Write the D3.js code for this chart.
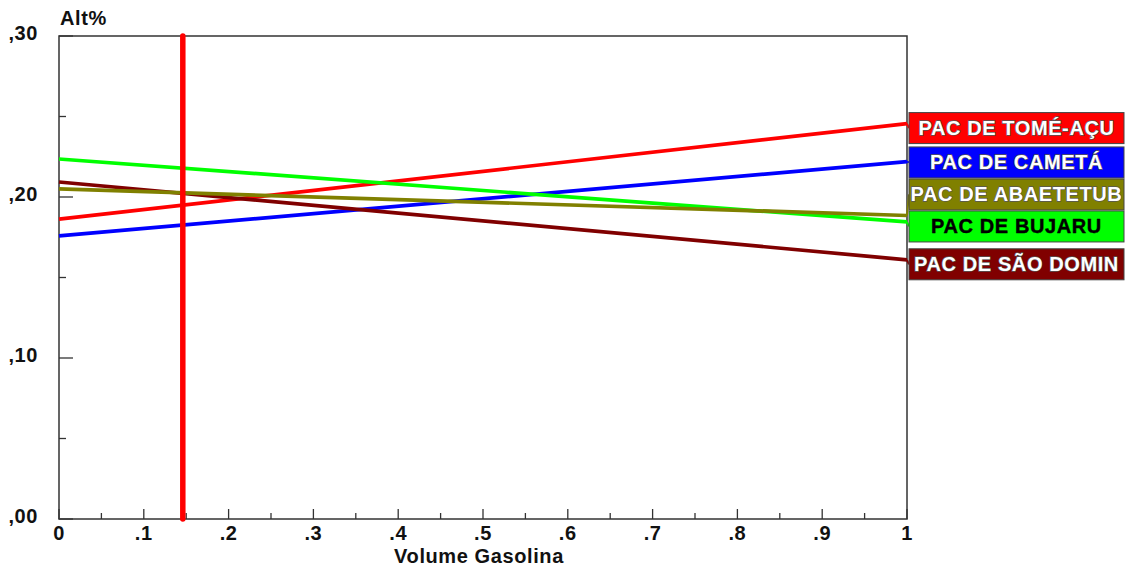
<!DOCTYPE html>
<html>
<head>
<meta charset="utf-8">
<script src="https://cdn.jsdelivr.net/npm/d3@7"></script>
<style>
  body { margin: 0; background: #fff; }
  text { font-family: "Liberation Sans", Arial, sans-serif; font-weight: bold; letter-spacing: 0.6px; }
</style>
</head>
<body>
<div id="chart"></div>
<script>
var width  = 1127,
    height = 570,
    margin = {top: 36, right: 220, bottom: 51, left: 59};

// ---------- data ----------
var series_names  = ["PAC DE TOMÉ-AÇU", "PAC DE CAMETÁ", "PAC DE ABAETETUB", "PAC DE BUJARU", "PAC DE SÃO DOMIN"];
var series_colors = ["#ff0000", "#0000ff", "#808000", "#00ff00", "#800000"];
var label_colors  = ["#fff", "#fff", "#fff", "#000", "#fff"];
var start_values  = [0.1863, 0.1758, 0.2050, 0.2236, 0.2093];   // at volume 0
var end_values    = [0.2456, 0.2220, 0.1885, 0.1845, 0.1610];   // at volume 1
var draw_order    = [0, 1, 4, 3, 2];
var x_ticks       = [0, .1, .2, .3, .4, .5, .6, .7, .8, .9, 1];
var x_tick_labels = ["0", ".1", ".2", ".3", ".4", ".5", ".6", ".7", ".8", ".9", "1"];
var y_ticks       = [0, .1, .2, .3];
var y_tick_labels = [",00", ",10", ",20", ",30"];
var marker_value  = 0.146;   // vertical reference line

var svg = d3.select("#chart").append("svg")
    .attr("width", width)
    .attr("height", height);

var x = d3.scaleLinear().domain([0, 1]).range([margin.left, width - margin.right]);
var y = d3.scaleLinear().domain([0, 0.3]).range([height - margin.bottom, margin.top]);

var ink = "#333";

// frame
svg.append("rect")
    .attr("x", x(0)).attr("y", y(0.3))
    .attr("width", x(1) - x(0)).attr("height", y(0) - y(0.3))
    .attr("fill", "none").attr("stroke", ink).attr("stroke-width", 1.5);

// x ticks (major + minor)
var g = svg.append("g");
d3.range(0, 21).forEach(function(i){
    var v = i / 20, major = i % 2 == 0;
    g.append("line")
        .attr("x1", x(v)).attr("x2", x(v))
        .attr("y1", y(0)).attr("y2", y(0) - (major ? 10 : 6))
        .attr("stroke", ink).attr("stroke-width", 1.3);
});
g.selectAll(".xl").data(x_ticks).enter().append("text")
    .attr("x", function(d){ return x(d); })
    .attr("y", y(0) + 21)
    .attr("text-anchor", "middle")
    .attr("font-size", 20)
    .attr("fill", "#111")
    .text(function(d, i){ return x_tick_labels[i]; });

// y ticks (major + minor)
d3.range(0, 7).forEach(function(i){
    var v = i * 0.05, major = i % 2 == 0;
    g.append("line")
        .attr("x1", x(0)).attr("x2", x(0) + (major ? 14 : 7))
        .attr("y1", y(v)).attr("y2", y(v))
        .attr("stroke", ink).attr("stroke-width", 1.3);
});
g.selectAll(".yl").data(y_ticks).enter().append("text")
    .attr("x", 38)
    .attr("y", function(d){ return y(d) + 4; })
    .attr("text-anchor", "end")
    .attr("font-size", 20)
    .attr("fill", "#111")
    .text(function(d, i){ return y_tick_labels[i]; });

// axis titles
svg.append("text").attr("x", 60).attr("y", 25).attr("font-size", 20).attr("fill", "#111").text("Alt%");
svg.append("text").attr("x", (x(0) + x(1)) / 2 - 4).attr("y", 563)
    .attr("text-anchor", "middle").attr("font-size", 20).attr("fill", "#111").text("Volume Gasolina");

// series lines
draw_order.forEach(function(i){
    svg.append("line")
        .attr("x1", x(0)).attr("y1", y(start_values[i]))
        .attr("x2", x(1)).attr("y2", y(end_values[i]))
        .attr("stroke", series_colors[i]).attr("stroke-width", 3.7);
});

// vertical marker
svg.append("line")
    .attr("x1", x(marker_value)).attr("x2", x(marker_value))
    .attr("y1", y(0.3)).attr("y2", y(0))
    .attr("stroke", "#ff0000").attr("stroke-width", 5.5).attr("stroke-linecap", "round");

// ---------- legend boxes: start at line end, push upwards from the bottom to avoid overlap ----------
var box_h = 32, box_x = x(1) + 2, box_w = 215;
var order = d3.range(series_names.length).sort(function(a, b){ return end_values[a] - end_values[b]; });
var box_y = {}, limit = Infinity;
order.forEach(function(i){
    var top = Math.min(y(end_values[i]) + 4.5 - box_h / 2, limit - box_h);
    box_y[i] = top;
    limit = top;
});

series_names.forEach(function(name, i){
    svg.append("line")
        .attr("x1", x(1)).attr("y1", y(end_values[i]))
        .attr("x2", box_x).attr("y2", box_y[i] + box_h / 2)
        .attr("stroke", series_colors[i]).attr("stroke-width", 2);
    svg.append("rect")
        .attr("x", box_x).attr("y", box_y[i] + 0.5)
        .attr("width", box_w).attr("height", box_h - 1)
        .attr("fill", series_colors[i])
        .attr("stroke", "#444").attr("stroke-width", 1);
    svg.append("text")
        .attr("x", box_x + box_w / 2)
        .attr("y", box_y[i] + box_h / 2 + 7)
        .attr("text-anchor", "middle")
        .attr("font-size", 20)
        .attr("fill", label_colors[i])
        .attr("stroke", label_colors[i] == "#fff" ? "#555" : "#000")
        .attr("stroke-width", label_colors[i] == "#fff" ? 1.3 : 0.4)
        .attr("paint-order", "stroke")
        .text(name);
});
</script>
</body>
</html>
